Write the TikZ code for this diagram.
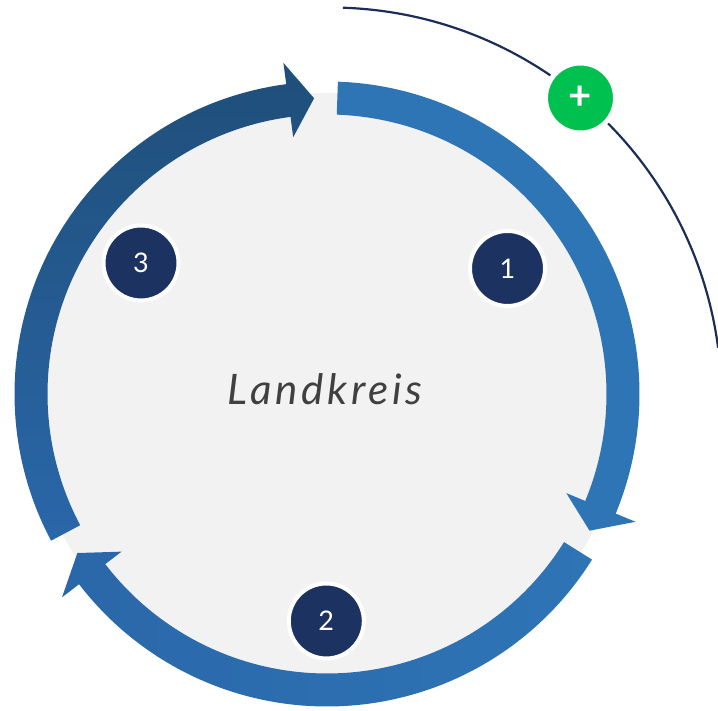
\documentclass[tikz,border=0pt]{standalone}
\usepackage{fontspec}
\setmainfont{Lato}
\newfontfamily\titlefont[LetterSpace=9]{Lato}
\definecolor{discgray}{HTML}{F2F2F2}
\definecolor{navy}{HTML}{1C3260}
\definecolor{linenavy}{HTML}{1C2E58}
\definecolor{plusgreen}{HTML}{00C050}
\definecolor{blueA}{HTML}{2E75B6}
\definecolor{blueB}{HTML}{2A67A9}
\definecolor{blueC}{HTML}{1F4E79}
\definecolor{titlegray}{HTML}{404040}
\newcommand\ringarrow[2]{%
  \path[#2] (#1:312.5pt) arc[start angle=#1, delta angle=-110.5, radius=312.5pt]
    -- ({#1-110.5}:334pt) -- ({#1-115.5}:296pt) -- ({#1-110.5}:259pt)
    -- ({#1-110.5}:279.5pt) arc[start angle={#1-110.5}, delta angle=110.5, radius=279.5pt]
    -- cycle;}
\tikzset{
  numcirc/.style={circle, fill=navy, draw=white, line width=4pt, minimum size=75pt,
    inner sep=0pt, text=white, font=\fontsize{27}{30}\selectfont},
  pluscirc/.style={circle, fill=plusgreen, draw=white, line width=5pt, minimum size=70pt,
    inner sep=0pt, text=white, font=\fontsize{40}{40}\selectfont\bfseries},
  outerarc/.style={draw=linenavy, line width=2.2pt},
  titletext/.style={text=titlegray, font=\titlefont\itshape\fontsize{42}{50}\selectfont, inner sep=0pt}
}
\begin{document}
\begin{tikzpicture}[x=1pt,y=1pt]
\useasboundingbox (0,0) rectangle (718,711);
\clip (0,0) rectangle (718,711);
% background disc
\fill[discgray] (327,318) circle[radius=300pt];
% ring arrows
\begin{scope}[shift={(327,317)}]
  \ringarrow{88}{fill=blueA}
  \ringarrow{-32}{left color=blueB, right color=blueA}
  \ringarrow{208}{bottom color=blueB, top color=blueC}
\end{scope}
% outer thin arc
\coordinate (arcstart) at ([shift={(330,312)}]88.1:391.5pt);
\draw[outerarc] (arcstart) arc[start angle=88.1, end angle=7.5, radius=391.5pt];
% numbered markers
\node[numcirc] (n1) at (507.5,442.5) {1};
\node[numcirc] (n2) at (326.3,90) {2};
\node[numcirc] (n3) at (141,448) {3};
% plus marker
\node[pluscirc] (plus) at (580.5,613) {+};
% title
\node[titletext, anchor=base] (title) at (325,306) {Landkreis};
\end{tikzpicture}
\end{document}
